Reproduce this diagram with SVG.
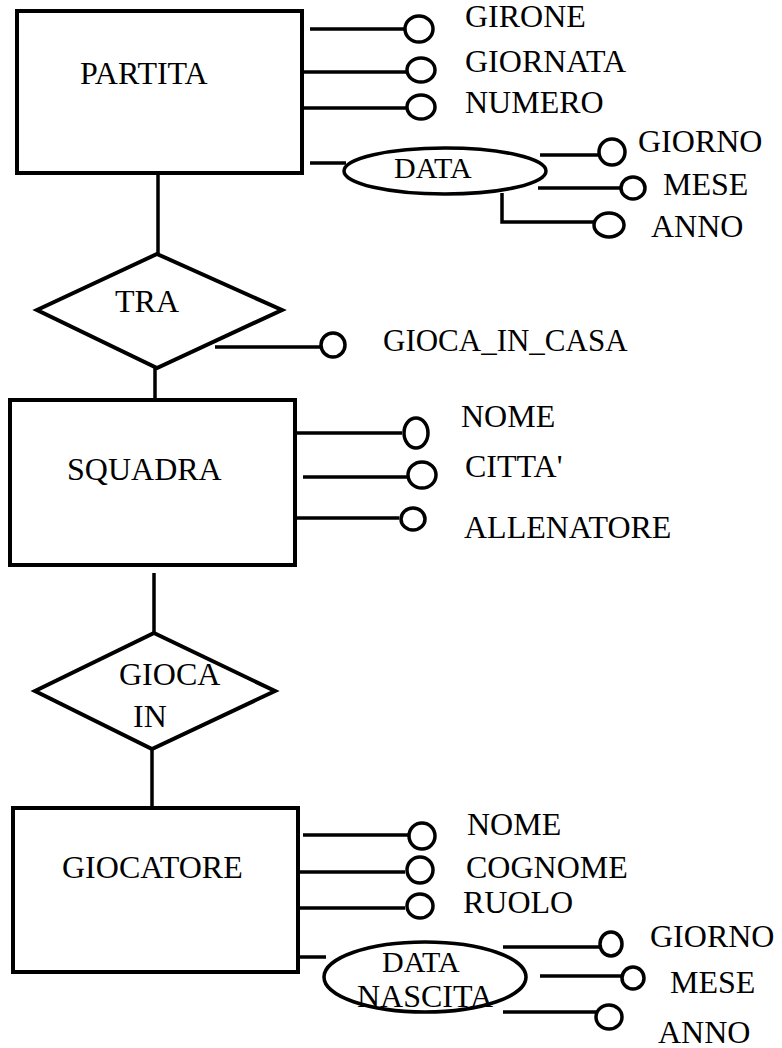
<svg xmlns="http://www.w3.org/2000/svg" width="782" height="1048" viewBox="0 0 782 1048">
  <style>
    .box { fill: #fff; stroke: #000; stroke-width: 4; }
    .rel { fill: #fff; stroke: #000; stroke-width: 4; stroke-linejoin: miter; }
    .comp { fill: #fff; stroke: #000; stroke-width: 3.5; }
    .attr { fill: #fff; stroke: #000; stroke-width: 3.5; }
    .ln { stroke: #000; stroke-width: 3.5; fill: none; }
    .t { font-size: 32px; fill: #000; }
    .f1 { font-family: 'Liberation Serif'; }
  </style>
  <rect width="782" height="1048" fill="#fff"/>

  <!-- connectors -->
  <g id="connectors">
    <!-- entity / relationship links -->
    <line class="ln" x1="158" y1="173" x2="158" y2="254"/>
    <line class="ln" x1="155" y1="368" x2="155" y2="400"/>
    <line class="ln" x1="154" y1="573" x2="154" y2="633"/>
    <line class="ln" x1="152" y1="749" x2="152" y2="808"/>
    <!-- PARTITA attributes -->
    <line class="ln" x1="310" y1="29" x2="405" y2="29"/>
    <line class="ln" x1="302" y1="72" x2="407" y2="72"/>
    <line class="ln" x1="302" y1="108" x2="407" y2="108"/>
    <line class="ln" x1="310" y1="163" x2="346" y2="163"/>
    <line class="ln" x1="540" y1="155" x2="599" y2="155"/>
    <line class="ln" x1="538" y1="188" x2="620" y2="188"/>
    <polyline class="ln" points="502,193 502,222 594,222"/>
    <!-- TRA attribute -->
    <line class="ln" x1="215" y1="347" x2="320" y2="347"/>
    <!-- SQUADRA attributes -->
    <line class="ln" x1="295" y1="433" x2="402" y2="433"/>
    <line class="ln" x1="303" y1="477" x2="407" y2="477"/>
    <line class="ln" x1="295" y1="518" x2="399" y2="518"/>
    <!-- GIOCATORE attributes -->
    <line class="ln" x1="303" y1="835" x2="408" y2="835"/>
    <line class="ln" x1="298" y1="872" x2="405" y2="872"/>
    <line class="ln" x1="298" y1="908" x2="405" y2="908"/>
    <line class="ln" x1="298" y1="957" x2="326" y2="957"/>
    <line class="ln" x1="503" y1="947" x2="599" y2="947"/>
    <line class="ln" x1="540" y1="976" x2="621" y2="976"/>
    <line class="ln" x1="503" y1="1012" x2="597" y2="1012"/>
  </g>

  <!-- PARTITA -->
  <g id="partita">
    <rect class="box" x="17" y="11" width="285" height="162"/>
    <text class="t f1" x="80" y="84" style="font-family: Liberation Serif">PARTITA</text>
  </g>
  <g id="partita-girone">
    <ellipse class="attr" cx="419" cy="29" rx="14" ry="13"/>
    <text class="t f1" x="465" y="27" style="font-family: Liberation Serif">GIRONE</text>
  </g>
  <g id="partita-giornata">
    <ellipse class="attr" cx="421" cy="70" rx="14" ry="12"/>
    <text class="t f1" x="465" y="72" style="font-family: Liberation Serif">GIORNATA</text>
  </g>
  <g id="partita-numero">
    <ellipse class="attr" cx="421" cy="107" rx="14" ry="12"/>
    <text class="t f1" x="465" y="113" style="font-family: Liberation Serif">NUMERO</text>
  </g>
  <g id="partita-data">
    <ellipse class="comp" cx="445" cy="171" rx="101" ry="23"/>
    <text class="t f1" x="394" y="178" style="font-family: Liberation Serif; font-size: 30px">DATA</text>
  </g>
  <g id="partita-data-giorno">
    <ellipse class="attr" cx="612" cy="152" rx="13" ry="13"/>
    <text class="t f1" x="638" y="152" style="font-family: Liberation Serif">GIORNO</text>
  </g>
  <g id="partita-data-mese">
    <ellipse class="attr" cx="633" cy="188" rx="12" ry="11"/>
    <text class="t f1" x="663" y="195" style="font-family: Liberation Serif">MESE</text>
  </g>
  <g id="partita-data-anno">
    <ellipse class="attr" cx="609" cy="225" rx="15" ry="12"/>
    <text class="t f1" x="651" y="237" style="font-family: Liberation Serif">ANNO</text>
  </g>

  <!-- TRA -->
  <g id="tra">
    <polygon class="rel" points="157,254 282,310 157,368 37,310"/>
    <text class="t f1" x="115" y="312" style="font-family: Liberation Serif">TRA</text>
  </g>
  <g id="tra-gioca-in-casa">
    <ellipse class="attr" cx="333" cy="345" rx="12" ry="12"/>
    <text class="t f1" x="383" y="351" style="font-family: Liberation Serif; font-size: 31px">GIOCA_IN_CASA</text>
  </g>

  <!-- SQUADRA -->
  <g id="squadra">
    <rect class="box" x="10" y="400" width="285" height="165"/>
    <text class="t f1" x="67" y="480" style="font-family: Liberation Serif">SQUADRA</text>
  </g>
  <g id="squadra-nome">
    <ellipse class="attr" cx="416" cy="433" rx="12" ry="15"/>
    <text class="t f1" x="461" y="427" style="font-family: Liberation Serif">NOME</text>
  </g>
  <g id="squadra-citta">
    <ellipse class="attr" cx="422" cy="475" rx="14" ry="13"/>
    <text class="t f1" x="465" y="477" style="font-family: Liberation Serif">CITTA'</text>
  </g>
  <g id="squadra-allenatore">
    <ellipse class="attr" cx="413" cy="519" rx="12" ry="11"/>
    <text class="t f1" x="464" y="538" style="font-family: Liberation Serif">ALLENATORE</text>
  </g>

  <!-- GIOCA IN -->
  <g id="gioca-in">
    <polygon class="rel" points="154,633 275,691 152,749 35,691"/>
    <text class="t f1" x="119" y="685" style="font-family: Liberation Serif">GIOCA</text>
    <text class="t f1" x="133" y="727" style="font-family: Liberation Serif">IN</text>
  </g>

  <!-- GIOCATORE -->
  <g id="giocatore">
    <rect class="box" x="13" y="808" width="285" height="164"/>
    <text class="t f1" x="62" y="878" style="font-family: Liberation Serif">GIOCATORE</text>
  </g>
  <g id="giocatore-nome">
    <ellipse class="attr" cx="422" cy="836" rx="13" ry="13"/>
    <text class="t f1" x="467" y="835" style="font-family: Liberation Serif">NOME</text>
  </g>
  <g id="giocatore-cognome">
    <ellipse class="attr" cx="420" cy="870" rx="13" ry="13"/>
    <text class="t f1" x="466" y="878" style="font-family: Liberation Serif">COGNOME</text>
  </g>
  <g id="giocatore-ruolo">
    <ellipse class="attr" cx="420" cy="906" rx="13" ry="12"/>
    <text class="t f1" x="463" y="913" style="font-family: Liberation Serif">RUOLO</text>
  </g>
  <g id="giocatore-data-nascita">
    <ellipse class="comp" cx="425" cy="977" rx="101" ry="35"/>
    <text class="t f1" x="382" y="972" style="font-family: Liberation Serif; font-size: 30px">DATA</text>
    <text class="t f1" x="357" y="1007" style="font-family: Liberation Serif">NASCITA</text>
  </g>
  <g id="giocatore-data-giorno">
    <ellipse class="attr" cx="611" cy="944" rx="11" ry="12"/>
    <text class="t f1" x="650" y="947" style="font-family: Liberation Serif">GIORNO</text>
  </g>
  <g id="giocatore-data-mese">
    <ellipse class="attr" cx="633" cy="978" rx="11" ry="11"/>
    <text class="t f1" x="670" y="993" style="font-family: Liberation Serif">MESE</text>
  </g>
  <g id="giocatore-data-anno">
    <ellipse class="attr" cx="609" cy="1017" rx="13" ry="12"/>
    <text class="t f1" x="658" y="1043" style="font-family: Liberation Serif">ANNO</text>
  </g>
</svg>
